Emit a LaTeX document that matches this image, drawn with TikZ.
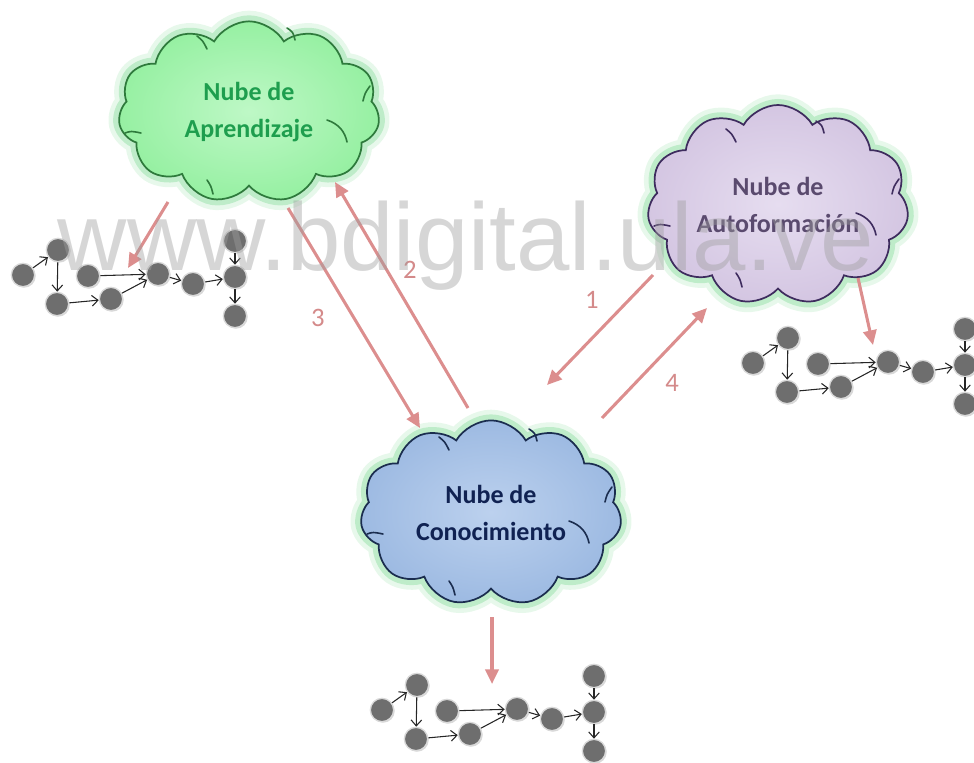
\documentclass[tikz,border=0pt]{standalone}
\usepackage{fontspec}
\newfontfamily\carl{Carlito}
\newfontfamily\libsans{Liberation Sans}
\usetikzlibrary{shapes.symbols,arrows.meta,shadows}
\definecolor{arrowpink}{HTML}{DC8E8E}
\definecolor{labelpink}{HTML}{D48A8A}
\definecolor{glowc}{HTML}{5FD07A}
\definecolor{greenfill}{HTML}{96F0A2}
\definecolor{greenin}{HTML}{BEF8C6}
\definecolor{greenline}{HTML}{2E7A3C}
\definecolor{greentext}{HTML}{1E9E4E}
\definecolor{purplefill}{HTML}{D4C6E2}
\definecolor{purplein}{HTML}{E6DDF0}
\definecolor{purpleline}{HTML}{3E2C5E}
\definecolor{purpletext}{HTML}{5A4A6E}
\definecolor{bluefill}{HTML}{9DBAE2}
\definecolor{bluein}{HTML}{BCD1EE}
\definecolor{blueline}{HTML}{1B2D4F}
\definecolor{bluetext}{HTML}{102252}
\definecolor{gnodefill}{HTML}{6E6E6E}
\newcommand\smallgraph[3]{%
  \begin{scope}[shift={(#2,#3)}]
    \node[gnode] (#1a) at (0,0) {};
    \node[gnode] (#1b) at (35,-25) {};
    \node[gnode] (#1c) at (34,29) {};
    \node[gnode] (#1d) at (65,1) {};
    \node[gnode] (#1e) at (88,24) {};
    \node[gnode] (#1f) at (135,-1) {};
    \node[gnode] (#1g) at (170,9) {};
    \node[gnode] (#1h) at (212,-34) {};
    \node[gnode] (#1i) at (212,2) {};
    \node[gnode] (#1j) at (212,41) {};
  \end{scope}
  \draw[gedge] (#1a) -- (#1b);
  \draw[gedge] (#1b) -- (#1c);
  \draw[gedge] (#1c) -- (#1e);
  \draw[gedge] (#1d) -- (#1f);
  \draw[gedge] (#1e) -- (#1f);
  \draw[gedge] (#1f) -- (#1g);
  \draw[gedge] (#1g) -- (#1i);
  \draw[gedge] (#1h) -- (#1i);
  \draw[gedge] (#1i) -- (#1j);
}
\newcommand\cloudcurls[2]{%
  \begin{scope}[shift={(#1.center)}, draw=#2, line width=1.2pt, line cap=round]
    \draw (-124,21) .. controls (-118,19) .. (-108,21);
    \draw (78,8) .. controls (90,12) and (96,20) .. (98,30);
    \draw (121,-26) .. controls (116,-19) .. (114,-11);
    \draw (-52,-76) .. controls (-46,-71) .. (-42,-63);
    \draw (38,-84) .. controls (44,-80) .. (46,-72);
    \draw (-42,68) .. controls (-38,74) .. (-36,82);
  \end{scope}
}
\begin{document}
\begin{tikzpicture}[x=0.75pt,y=-0.75pt,
  cloudbase/.style={cloud, cloud puffs=11, cloud puff arc=120, aspect=1.45,
    minimum width=196pt, minimum height=136pt, line width=1.3pt, align=center,
    font=\carl\bfseries\fontsize{19.5}{28}\selectfont,
    preaction={draw=glowc, line width=16pt, draw opacity=0.15},
    preaction={draw=glowc, line width=9pt, draw opacity=0.3}},
  pinkarrow/.style={draw=arrowpink, line width=2.3pt, -{Triangle[length=11pt,width=10pt]}},
  numlabel/.style={text=labelpink, font=\carl\fontsize{20}{20}\selectfont},
  gnode/.style={circle, fill=gnodefill, draw=black!15, line width=1pt, minimum size=17.5pt, inner sep=0pt,
    drop shadow={shadow xshift=0.8pt, shadow yshift=-0.8pt, opacity=0.3}},
  gedge/.style={draw=black!85, line width=0.8pt, -{Straight Barb[length=4.5pt,width=8pt]}}]
\useasboundingbox (0,0) rectangle (974,763);
\clip (0,0) rectangle (974,763);

% clouds
\node[cloudbase, draw=greenline, inner color=greenin, outer color=greenfill, text=greentext] (aprend) at (249,112) {Nube de\\Aprendizaje};
\node[cloudbase, draw=purpleline, inner color=purplein, outer color=purplefill, text=purpletext] (autof) at (778,205) {Nube de\\Autoformación};
\node[cloudbase, draw=blueline, inner color=bluein, outer color=bluefill, text=bluetext] (conoc) at (491,513) {Nube de\\Conocimiento};
\cloudcurls{aprend}{greenline}
\cloudcurls{autof}{purpleline}
\cloudcurls{conoc}{blueline}

% small graphs
\smallgraph{L}{23}{275}
\smallgraph{R}{753}{363}
\smallgraph{B}{382}{710}

% arrow end points
\coordinate (gAs) at (168,202);  \coordinate (gAe) at (128,268);
\coordinate (t3s) at (288,208);  \coordinate (t3e) at (420,428);
\coordinate (t2s) at (468,408);  \coordinate (t2e) at (335,182);
\coordinate (t1s) at (653,275);  \coordinate (t1e) at (547,385);
\coordinate (t4s) at (602,418);  \coordinate (t4e) at (707,308);
\coordinate (pRs) at (858,278);  \coordinate (pRe) at (873,345);
\coordinate (bBs) at (492,617);  \coordinate (bBe) at (492,684);

\draw[pinkarrow] (gAs) -- (gAe);
\draw[pinkarrow] (t3s) -- (t3e);
\draw[pinkarrow] (t2s) -- (t2e);
\draw[pinkarrow] (t1s) -- (t1e);
\draw[pinkarrow] (t4s) -- (t4e);
\draw[pinkarrow] (pRs) -- (pRe);
\draw[pinkarrow] (bBs) -- (bBe);

\node[numlabel] (n3) at (318,318) {3};
\node[numlabel] (n2) at (410,270) {2};
\node[numlabel] (n1) at (592,300) {1};
\node[numlabel] (n4) at (672,383) {4};

% watermark
\node[font=\libsans\fontsize{72}{72}\selectfont, text=black!38, text opacity=0.42, anchor=base, inner sep=0pt] (wm) at (466,270) {www.bdigital.ula.ve};
\end{tikzpicture}
\end{document}
